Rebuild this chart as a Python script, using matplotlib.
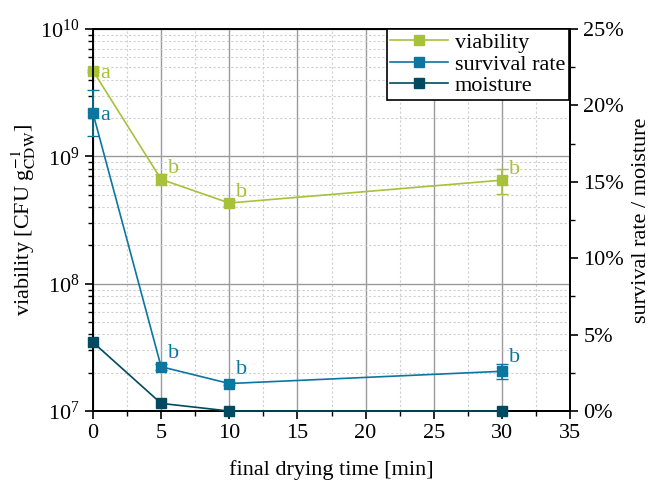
import matplotlib
matplotlib.use("Agg")
import matplotlib.pyplot as plt
import numpy as np
from matplotlib.lines import Line2D
from matplotlib.ticker import MultipleLocator, LogLocator, FuncFormatter, NullFormatter

plt.rcParams['font.family'] = ['Liberation Serif', 'DejaVu Serif']
plt.rcParams['mathtext.fontset'] = 'stix'

time = [0, 5, 10, 30]
viability = [4.7e9, 6.6e8, 4.3e8, 6.5e8]
viability_err = [0.1e9, 0.6e8, 0.2e8, 1.4e8]
viability_lbl = ['a', 'b', 'b', 'b']
survival = [19.5, 2.9, 1.8, 2.6]
survival_err = [1.5, 0.2, 0.1, 0.5]
survival_lbl = ['a', 'b', 'b', 'b']
moisture = [4.5, 0.5, 0.0, 0.0]
series_names = ['viability', 'survival rate', 'moisture']

c_via = '#a7c13a'
c_sur = '#0b76a0'
c_moi = '#004a61'

fig = plt.figure(figsize=(6.5, 4.83), dpi=100)
ax = fig.add_axes([0.143, 0.149, 0.734, 0.791])
ax2 = ax.twinx()

ax.set_yscale('log')
ax.set_ylim(1e7, 1e10)
ax.set_xlim(0, 35)
ax2.set_ylim(0, 25)

ax.xaxis.set_major_locator(MultipleLocator(5))
ax.xaxis.set_minor_locator(MultipleLocator(2.5))
ax.yaxis.set_major_locator(LogLocator(base=10, numticks=10))
ax.yaxis.set_minor_locator(LogLocator(base=10, subs=np.arange(2, 10), numticks=20))
ax.yaxis.set_minor_formatter(NullFormatter())
ax2.yaxis.set_major_locator(MultipleLocator(5))
ax2.yaxis.set_minor_locator(MultipleLocator(2.5))
ax2.yaxis.set_major_formatter(FuncFormatter(lambda v, p: f"{v:.0f}%"))

ax.grid(which='major', color='#9a9a9a', lw=1.0, ls='-')
ax.grid(which='minor', color='#cfcfcf', lw=0.8, ls=(0, (2, 2)))
ax.set_axisbelow(True)

for a in (ax, ax2):
    for s in a.spines.values():
        s.set_linewidth(1.3)
ax.tick_params(which='major', direction='out', length=6, width=1.2, labelsize=16)
ax.tick_params(which='minor', direction='out', length=3.5, width=1.0)
ax2.tick_params(which='major', direction='out', length=6, width=1.2, labelsize=16)
ax2.tick_params(which='minor', direction='out', length=3.5, width=1.0)

l1 = ax.errorbar(time, viability, yerr=viability_err, color=c_via, marker='s', ms=7,
                 lw=1.2, capsize=4, elinewidth=1.2, zorder=5)
l2 = ax2.errorbar(time, survival, yerr=survival_err, color=c_sur, marker='s', ms=7,
                  lw=1.2, capsize=4, elinewidth=1.2, zorder=5)
l3, = ax2.plot(time, moisture, color=c_moi, marker='s', ms=7, lw=1.2, zorder=5)
for art in (l1, l2):
    for child in art.get_children():
        child.set_clip_on(False)
l3.set_clip_on(False)

for t, v, s in zip(time, viability, viability_lbl):
    ax.annotate(s, (t, v), xytext=(5, 1 if t else -2), textcoords='offset points', color=c_via,
                fontsize=16, ha='left', va='bottom' if t else 'center')
for t, v, s in zip(time, survival, survival_lbl):
    ax2.annotate(s, (t, v), xytext=(5, 3 if t else -2), textcoords='offset points', color=c_sur,
                 fontsize=16, ha='left', va='bottom' if t else 'center')

ax.set_xlabel('final drying time [min]', fontsize=16, labelpad=12)
ax.set_ylabel(r'viability [CFU g$_{\mathrm{CDW}}^{-1}$]', fontsize=16, labelpad=2)
ax2.set_ylabel('survival rate / moisture', fontsize=16, labelpad=6)

handles = [Line2D([], [], color=c, marker='s', ms=7, lw=1.2) for c in (c_via, c_sur, c_moi)]
leg = ax2.legend(handles, series_names,
                 loc='upper right', bbox_to_anchor=(0.997, 1.0), fontsize=16,
                 fancybox=False, framealpha=1, edgecolor='black',
                 borderpad=0.15, labelspacing=0.05, handlelength=2.6, handletextpad=0.3,
                 borderaxespad=0.0)
leg.get_frame().set_linewidth(1.2)

fig.savefig('out.png', dpi=100)
